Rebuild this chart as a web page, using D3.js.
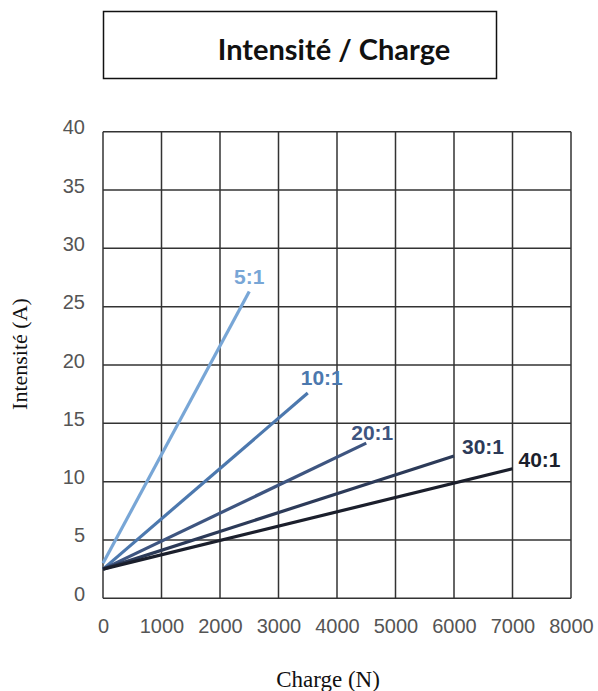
<!DOCTYPE html>
<html>
<head>
<meta charset="utf-8">
<script src="https://cdn.jsdelivr.net/npm/d3@7"></script>
<style>
  body { margin: 0; background: #fff; }
  svg { display: block; }
</style>
</head>
<body>
<svg id="chart" width="598" height="691"></svg>
<script>
// data
const ratios = ["5:1", "10:1", "20:1", "30:1", "40:1"];
const startCharge = [0, 0, 0, 0, 0];
const startAmps = [3.0, 2.5, 2.5, 2.5, 2.5];
const endCharge = [2500, 3500, 4500, 6000, 7000];
const endAmps = [26.3, 17.6, 13.3, 12.2, 11.1];
const xTicks = [0, 1000, 2000, 3000, 4000, 5000, 6000, 7000, 8000];
const yTicks = [0, 5, 10, 15, 20, 25, 30, 35, 40];
const colors = ["#78a6d6", "#4c78ae", "#3e5580", "#2c3a58", "#1b1f2c"];

const svg = d3.select("#chart");

//plot area
let plotLeft = 103, plotRight = 571, plotTop = 131.7, plotBottom = 598.3;

let x = d3.scaleLinear().domain([0, 8000]).range([plotLeft, plotRight]);
let y = d3.scaleLinear().domain([0, 40]).range([plotBottom, plotTop]);

// title box
svg.append("rect")
    .attr("x", 103.5).attr("y", 11.5)
    .attr("width", 393).attr("height", 67)
    .attr("fill", "none")
    .attr("stroke", "#111")
    .attr("stroke-width", 1.5);
svg.append("text")
    .attr("x", 334)
    .attr("y", 60)
    .attr("text-anchor", "middle")
    .style("font-family", "Lato, 'Open Sans', sans-serif")
    .style("font-weight", "bold")
    .style("font-size", "29px")
    .attr("fill", "#111")
    .text("Intensité / Charge");

// grid
let grid = svg.append("g").attr("stroke", "#333").attr("stroke-width", 1.5);
grid.selectAll(".vline").data(xTicks).join("line")
    .attr("class", "vline")
    .attr("x1", d => x(d)).attr("x2", d => x(d))
    .attr("y1", plotTop).attr("y2", plotBottom);
grid.selectAll(".hline").data(yTicks).join("line")
    .attr("class", "hline")
    .attr("x1", plotLeft).attr("x2", plotRight)
    .attr("y1", d => y(d)).attr("y2", d => y(d));

// tick labels
svg.append("g")
    .attr("transform", "translate(" + plotLeft + ",0)")
    .call(d3.axisLeft(y).tickValues(yTicks).tickSize(0).tickPadding(18))
    .call(g => g.select(".domain").remove())
    .selectAll("text")
    .attr("dy", "0.1em")
    .style("font-family", "'Liberation Sans', Arial, sans-serif")
    .style("font-size", "20px")
    .attr("fill", "#555");

svg.append("g")
    .attr("transform", "translate(0," + plotBottom + ")")
    .call(d3.axisBottom(x).tickValues(xTicks).tickSize(0).tickPadding(21).tickFormat(d3.format("d")))
    .call(g => g.select(".domain").remove())
    .selectAll("text")
    .style("font-family", "'Liberation Sans', Arial, sans-serif")
    .style("font-size", "20px")
    .attr("fill", "#555");

// axis titles
svg.append("text")
    .attr("x", 328)
    .attr("y", 687)
    .attr("text-anchor", "middle")
    .style("font-family", "'Liberation Serif', 'Times New Roman', serif")
    .style("font-size", "23px")
    .attr("fill", "#111")
    .text("Charge (N)");
svg.append("text")
    .attr("transform", "translate(27,354) rotate(-90)")
    .attr("text-anchor", "middle")
    .style("font-family", "'Liberation Serif', 'Times New Roman', serif")
    .style("font-size", "22px")
    .attr("fill", "#111")
    .text("Intensité (A)");

// lines
let series = ratios.map((r, i) => ({
    name: r,
    color: colors[i],
    pts: [[startCharge[i], startAmps[i]], [endCharge[i], endAmps[i]]]
}));

let line = d3.line().x(d => x(d[0])).y(d => y(d[1]));

svg.selectAll(".ratio").data(series).join("path")
    .attr("class", "ratio")
    .attr("d", d => line(d.pts))
    .attr("fill", "none")
    .attr("stroke", d => d.color)
    .attr("stroke-width", 3.2);

// labels near line ends
let labelOffset = [[0, -15], [14, -15], [6, -11], [29, -9], [27, -9]];
svg.selectAll(".lbl").data(series).join("text")
    .attr("class", "lbl")
    .attr("x", (d, i) => x(d.pts[1][0]) + labelOffset[i][0])
    .attr("y", (d, i) => y(d.pts[1][1]) + labelOffset[i][1])
    .attr("dy", "0.35em")
    .attr("text-anchor", "middle")
    .style("font-family", "'Liberation Sans', Arial, sans-serif")
    .style("font-weight", "bold")
    .style("font-size", "21px")
    .attr("fill", d => d.color)
    .text(d => d.name);
</script>
</body>
</html>
